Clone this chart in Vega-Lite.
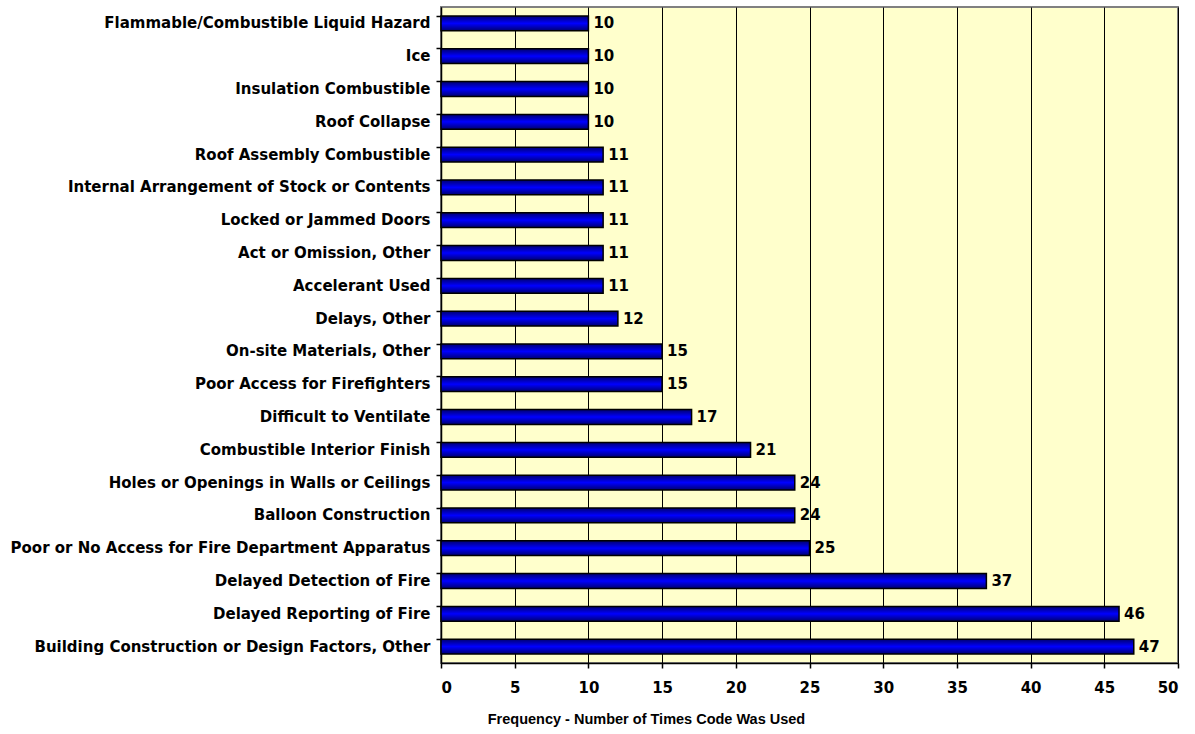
{
  "$schema": "https://vega.github.io/schema/vega-lite/v6.json",
  "width": 737,
  "height": 656,
  "autosize": "none",
  "padding": {"left": 441, "top": 7, "right": 17, "bottom": 71},
  "background": "white",
  "config": {
    "view": {"fill": "#FFFFCC", "stroke": "#808080", "strokeWidth": 2},
    "font": "DejaVu Sans"
  },
  "data": {
    "values": [
      {"factor": "Flammable/Combustible Liquid Hazard", "count": 10},
      {"factor": "Ice", "count": 10},
      {"factor": "Insulation Combustible", "count": 10},
      {"factor": "Roof Collapse", "count": 10},
      {"factor": "Roof Assembly Combustible", "count": 11},
      {"factor": "Internal Arrangement of Stock or Contents", "count": 11},
      {"factor": "Locked or Jammed Doors", "count": 11},
      {"factor": "Act or Omission, Other", "count": 11},
      {"factor": "Accelerant Used", "count": 11},
      {"factor": "Delays, Other", "count": 12},
      {"factor": "On-site Materials, Other", "count": 15},
      {"factor": "Poor Access for Firefighters", "count": 15},
      {"factor": "Difficult to Ventilate", "count": 17},
      {"factor": "Combustible Interior Finish", "count": 21},
      {"factor": "Holes or Openings in Walls or Ceilings", "count": 24},
      {"factor": "Balloon Construction", "count": 24},
      {"factor": "Poor or No Access for Fire Department Apparatus", "count": 25},
      {"factor": "Delayed Detection of Fire", "count": 37},
      {"factor": "Delayed Reporting of Fire", "count": 46},
      {"factor": "Building Construction or Design Factors, Other", "count": 47}
    ]
  },
  "encoding": {
    "y": {
      "field": "factor",
      "type": "nominal",
      "sort": null,
      "scale": {"paddingInner": 0.55, "paddingOuter": 0.275},
      "axis": {
        "title": null,
        "bandPosition": 0,
        "domainColor": "black",
        "domainWidth": 1.5,
        "tickColor": "black",
        "tickWidth": 1.5,
        "tickSize": 5,
        "labelPadding": 6,
        "labelFont": "DejaVu Sans",
        "labelFontSize": 15,
        "labelFontWeight": "bold",
        "labelColor": "black",
        "labelLimit": 500
      }
    },
    "x": {
      "field": "count",
      "type": "quantitative",
      "scale": {"domain": [0, 50], "nice": false},
      "axis": {
        "values": [0, 5, 10, 15, 20, 25, 30, 35, 40, 45, 50],
        "title": "Frequency - Number of Times Code Was Used",
        "titleFont": "Liberation Sans",
        "titleFontSize": 14.5,
        "titleFontWeight": "bold",
        "titleColor": "black",
        "titleX": 205,
        "titleY": 60,
        "titleAlign": "center",
        "titleBaseline": "alphabetic",
        "grid": true,
        "gridColor": "black",
        "gridWidth": 1,
        "gridOpacity": 1,
        "domainColor": "black",
        "domainWidth": 1.5,
        "tickColor": "black",
        "tickWidth": 1.5,
        "tickSize": 5,
        "labelPadding": 12,
        "labelFont": "DejaVu Sans",
        "labelFontSize": 15,
        "labelFontWeight": "bold",
        "labelColor": "black"
      }
    }
  },
  "layer": [
    {
      "mark": {
        "type": "bar",
        "stroke": "black",
        "strokeWidth": 1.5,
        "color": {
          "gradient": "linear",
          "x1": 0, "y1": 0, "x2": 0, "y2": 1,
          "stops": [
            {"offset": 0, "color": "#000070"},
            {"offset": 0.5, "color": "#0000FF"},
            {"offset": 1, "color": "#000070"}
          ]
        }
      }
    },
    {
      "mark": {
        "type": "text",
        "align": "left",
        "baseline": "middle",
        "dx": 5,
        "font": "DejaVu Sans",
        "fontSize": 15,
        "fontWeight": "bold",
        "color": "black"
      },
      "encoding": {"text": {"field": "count", "type": "quantitative"}}
    }
  ]
}
